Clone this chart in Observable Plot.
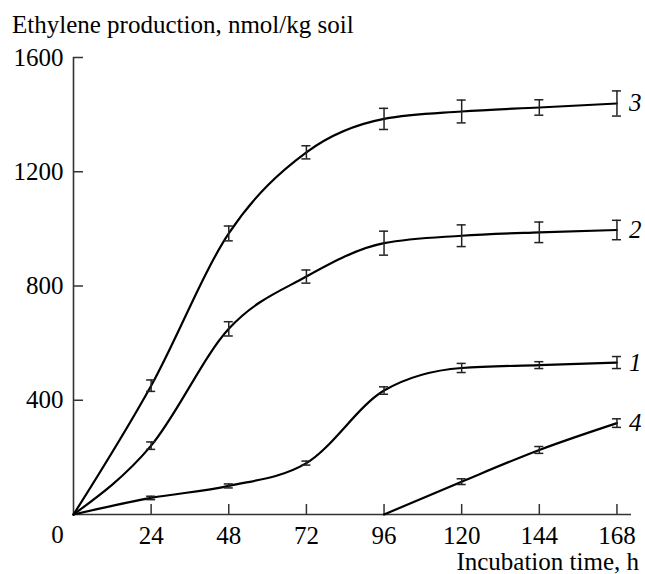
<!DOCTYPE html>
<html>
<head>
<meta charset="utf-8">
<script src="https://cdn.jsdelivr.net/npm/d3@7"></script>
<script src="https://cdn.jsdelivr.net/npm/@observablehq/plot@0.6"></script>
</head>
<body style="margin:0;background:#fff">
<div id="c"></div>
<script>
// Data
const hours = [0, 24, 48, 72, 96, 120, 144, 168];
const series1 = [0, 58, 100, 180, 434, 513, 523, 532];
const series1Err = [0, 6, 7, 7, 13, 16, 12, 21];
const series2 = [0, 241, 650, 833, 950, 976, 988, 996];
const series2Err = [0, 13, 25, 23, 42, 38, 36, 34];
const series3 = [0, 451, 984, 1268, 1385, 1411, 1425, 1439];
const series3Err = [0, 20, 26, 23, 37, 40, 27, 44];
const hours4 = [96, 120, 144, 168];
const series4 = [0, 115, 226, 320];
const series4Err = [0, 10, 12, 15];

const seriesLabels = ["1", "2", "3", "4"];
const xTicks = [24, 48, 72, 96, 120, 144, 168];
const yTicks = [400, 800, 1200, 1600];
const yTitle = "Ethylene production, nmol/kg soil";
const xTitle = "Incubation time, h";

function rows(label, xs, ys, es) {
  return xs.map((x, i) => ({series: label, x, y: ys[i], err: es[i]}));
}
const data = [
  ...rows("1", hours, series1, series1Err),
  ...rows("2", hours, series2, series2Err),
  ...rows("3", hours, series3, series3Err),
  ...rows("4", hours4, series4, series4Err)
];
const errData = data.filter(d => d.err > 0);
const caps = errData.flatMap(d => [{x: d.x, y: d.y + d.err}, {x: d.x, y: d.y - d.err}]);
const ends = seriesLabels.map(s => data.filter(d => d.series === s).slice(-1)[0]);

const FS = 25;
const FF = "Liberation Serif";

const chart = Plot.plot({
  width: 645,
  height: 574,
  marginLeft: 73,
  marginRight: 14,
  marginTop: 57,
  marginBottom: 60,
  x: {domain: [0, 172.5]},
  y: {domain: [0, 1600]},
  style: {fontFamily: FF, fontSize: "25px"},
  marks: [
    Plot.ruleX([0], {stroke: "#333", strokeWidth: 1.6}),
    Plot.ruleY([0], {stroke: "#333", strokeWidth: 1.6}),
    Plot.ruleX(xTicks, {x: d => d, y1: 0, y2: 35, stroke: "#333", strokeWidth: 1.5}),
    Plot.ruleY(yTicks, {y: d => d, x1: 0, x2: 3.1, stroke: "#333", strokeWidth: 1.5}),
    Plot.axisX({ticks: xTicks, tickSize: 0, tickPadding: 12, tickFormat: d => String(d), label: null, fontSize: FS, fontFamily: FF}),
    Plot.axisY({ticks: yTicks, tickSize: 0, tickPadding: 10, tickFormat: d => String(d), label: null, fontSize: FS, fontFamily: FF}),
    Plot.text(["0"], {x: 0, y: 0, dx: -16, dy: 20, text: d => d, fontSize: FS, fontFamily: FF, lineAnchor: "middle"}),
    Plot.text([yTitle], {frameAnchor: "top-left", dx: -61.5, dy: -33, text: d => d, textAnchor: "start", lineAnchor: "middle", fontSize: FS, fontFamily: FF}),
    Plot.text([xTitle], {frameAnchor: "bottom-right", dx: 7.5, dy: 47, text: d => d, textAnchor: "end", lineAnchor: "middle", fontSize: FS, fontFamily: FF}),
    Plot.line(data, {x: "x", y: "y", z: "series", curve: "monotone-x", stroke: "#000", strokeWidth: 2.2}),
    Plot.ruleX(errData, {x: "x", y1: d => d.y - d.err, y2: d => d.y + d.err, stroke: "#222", strokeWidth: 1.5}),
    Plot.ruleY(caps, {y: "y", x1: d => d.x - 1.4, x2: d => d.x + 1.4, stroke: "#222", strokeWidth: 1.5}),
    Plot.text(ends, {x: "x", y: "y", text: "series", dx: 12, textAnchor: "start", lineAnchor: "middle", fontStyle: "italic", fontSize: FS, fontFamily: FF})
  ]
});
document.getElementById("c").appendChild(chart);
</script>
</body>
</html>
